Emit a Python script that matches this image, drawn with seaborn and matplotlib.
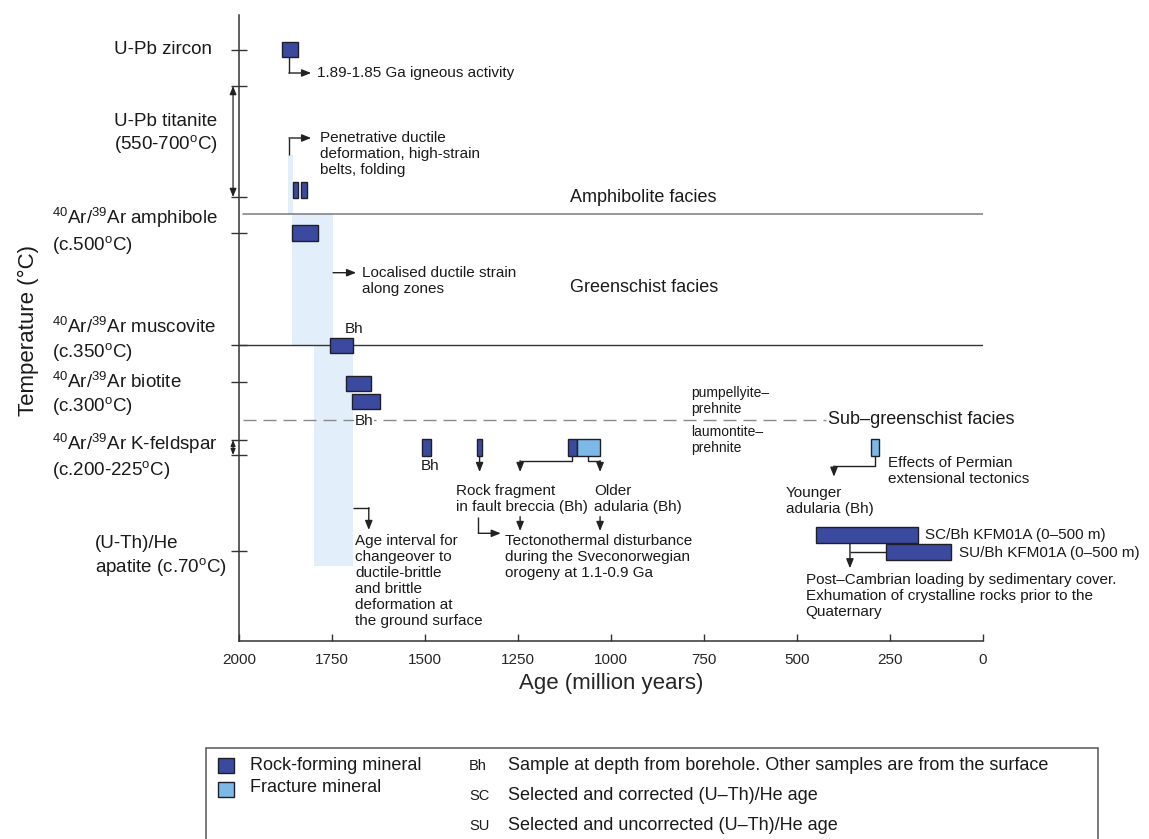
import numpy as np
import pandas as pd
import matplotlib
matplotlib.use("Agg")
import matplotlib.pyplot as plt
import seaborn as sns
from matplotlib.patches import Rectangle

# ---------------- data ----------------
# bars: age interval (Ma) and vertical level (arbitrary temperature-rank scale)
bar_old = [1885, 1854, 1832, 1857, 1755, 1711, 1695, 1509, 1361, 1114, 1090, 301, 448, 260]
bar_young = [1842, 1840, 1818, 1788, 1694, 1646, 1621, 1484, 1346, 1090, 1029, 280, 175, 86]
bar_level = [59.15, 45.1, 45.1, 40.77, 29.55, 25.77, 23.93, 19.35, 19.35, 19.35, 19.35, 19.35, 10.63, 8.87]
bar_height = [1.56, 1.6, 1.6, 1.6, 1.56, 1.53, 1.53, 1.64, 1.64, 1.64, 1.64, 1.64, 1.6, 1.6]
bar_kind = ["rock", "rock", "rock", "rock", "rock", "rock", "rock", "rock", "rock",
            "rock", "fracture", "fracture", "rock", "rock"]

# shaded deformation bands
band_old = [1868, 1857, 1798]
band_young = [1856, 1747, 1694]
band_top = [48.6, 42.7, 29.6]
band_bottom = [42.7, 29.6, 7.53]

# method (y) labels
method_labels = [
    "U-Pb zircon",
    "U-Pb titanite\n(550-700$^{\\mathrm{o}}$C)",
    "$^{40}$Ar/$^{39}$Ar amphibole\n(c.500$^{\\mathrm{o}}$C)",
    "$^{40}$Ar/$^{39}$Ar muscovite\n(c.350$^{\\mathrm{o}}$C)",
    "$^{40}$Ar/$^{39}$Ar biotite\n(c.300$^{\\mathrm{o}}$C)",
    "$^{40}$Ar/$^{39}$Ar K-feldspar\n(c.200-225$^{\\mathrm{o}}$C)",
    "(U-Th)/He\napatite (c.70$^{\\mathrm{o}}$C)",
]
method_label_level = [59.1, 50.7, 41.0, 30.1, 24.65, 18.45, 8.45]
method_label_xpx = [114, 114, 52, 52, 52, 52, 95]
ytick_levels = [59.1, 55.5, 44.4, 40.8, 29.6, 25.9, 20.1, 18.6, 9.0]

xticks = [2000, 1750, 1500, 1250, 1000, 750, 500, 250, 0]

# ---------------- style ----------------
sns.set_theme(style="white")
plt.rcParams["font.family"] = ["Liberation Sans", "DejaVu Sans"]
plt.rcParams["mathtext.fontset"] = "custom"
plt.rcParams["mathtext.rm"] = "Liberation Sans"
plt.rcParams["mathtext.it"] = "Liberation Sans:italic"
plt.rcParams["mathtext.bf"] = "Liberation Sans:bold"
plt.rcParams["text.color"] = "#1a1a1a"

DARK = "#3B4A9E"
LIGHT = "#7DB9E6"
BAND = "#E2EEF9"
EDGE = "#1f1f2a"
LINE = "#222222"
LS = 1.17

W, H = 1149, 839
fig = plt.figure(figsize=(W / 100, H / 100), dpi=100)
ax = fig.add_axes([239 / W, 1 - 641 / H, (982.7 - 239) / W, (641 - 15) / H])
ax.set_xlim(2000, 0)
ax.set_ylim(0, 62.6)
sns.despine(ax=ax)
for s in ["left", "bottom"]:
    ax.spines[s].set_color("#333333")
    ax.spines[s].set_linewidth(1.1)

ax.set_xticks(xticks)
ax.set_xticklabels([str(v) for v in xticks], fontsize=11)
ax.tick_params(axis="x", bottom=True, direction="in", length=5, width=1,
               color="#333333", pad=9)
ax.set_yticks(ytick_levels)
ax.set_yticklabels([])
ax.tick_params(axis="y", left=True, direction="inout", length=11, width=1,
               color="#333333")
ax.set_xlabel("Age (million years)", fontsize=16, labelpad=4)

fig.text(28 / W, 1 - 330 / H, "Temperature (°C)", rotation=90, fontsize=16,
         ha="center", va="center")

# method labels
for lab, lev, xp in zip(method_labels, method_label_level, method_label_xpx):
    ax.annotate(lab, xy=(xp / W, lev), xycoords=("figure fraction", "data"),
                ha="left", va="center", fontsize=13.5, linespacing=1.2,
                annotation_clip=False)

# shaded bands
for o, y_, t, b in zip(band_old, band_young, band_top, band_bottom):
    ax.fill_betweenx([b, t], y_, o, color=BAND, lw=0, zorder=0)

# facies lines
ax.plot([1989, 0], [42.67, 42.67], color="#7a7a7a", lw=1.1, zorder=1)
ax.plot([2000, 0], [29.6, 29.6], color="#333333", lw=1.0, zorder=1)
ax.plot([1989, 421], [22.1, 22.1], color="#8a8a8a", lw=1.0,
        linestyle=(0, (9.4, 5.0)), zorder=1)

# bars
df = pd.DataFrame(dict(old=bar_old, young=bar_young, level=bar_level,
                       h=bar_height, kind=bar_kind))
for _, r in df.iterrows():
    ax.barh(r.level, r.old - r.young, left=r.young, height=r.h,
            color=DARK if r.kind == "rock" else LIGHT, edgecolor=EDGE,
            linewidth=1.0, zorder=3)

# helpers for connectors
def seg(xs, ys):
    ax.plot(xs, ys, color=LINE, lw=1.0, solid_capstyle="butt", zorder=2)

def arrow(x0, y0, x1, y1):
    ax.annotate("", xy=(x1, y1), xytext=(x0, y0),
                arrowprops=dict(arrowstyle="-|>,head_length=0.55,head_width=0.22",
                                color=LINE, lw=1.0, mutation_scale=10,
                                shrinkA=0, shrinkB=0), zorder=2)

def txt(x, y, s, size=11, ls=LS, **kw):
    ax.text(x, y, s, ha=kw.pop("ha", "left"), va=kw.pop("va", "center"),
            fontsize=size, linespacing=ls, **kw)

# double arrows on y axis
for a, b, ms in [(55.5, 44.4, 10), (20.1, 18.6, 7)]:
    ax.annotate("", xy=(-0.008, b), xytext=(-0.008, a),
                xycoords=("axes fraction", "data"), textcoords=("axes fraction", "data"),
                arrowprops=dict(arrowstyle="<|-|>,head_length=0.5,head_width=0.2",
                                color=LINE, lw=0.9, mutation_scale=ms,
                                shrinkA=0, shrinkB=0), annotation_clip=False)

# zircon
seg([1865.6, 1865.6], [58.37, 56.8])
arrow(1865.6, 56.8, 1806, 56.8)
txt(1790, 56.8, "1.89-1.85 Ga igneous activity")

# penetrative
seg([1865.6, 1865.6], [48.6, 50.3])
arrow(1865.6, 50.3, 1806, 50.3)
txt(1781, 48.7, "Penetrative ductile\ndeformation, high-strain\nbelts, folding")

# localised
arrow(1747, 36.83, 1685, 36.83)
txt(1669, 36.0, "Localised ductile strain\nalong zones")

# facies text
txt(1109, 44.4, "Amphibolite facies", size=13)
txt(1109, 35.4, "Greenschist facies", size=13)
txt(416, 22.1, "Sub\u2013greenschist facies", size=13)
txt(784, 24.0, "pumpellyite\u2013\nprehnite", size=10)
txt(784, 20.1, "laumontite\u2013\nprehnite", size=10)

# Bh labels
txt(1691, 31.2, "Bh", ha="center")
ax.text(1664, 22.03, "Bh", ha="center", va="center", fontsize=11,
        bbox=dict(facecolor="white", edgecolor="none", pad=0.5), zorder=2)
txt(1485, 17.53, "Bh", ha="center")

# K-feldspar connectors
arrow(1353, 18.53, 1353, 16.9)
seg([1104.5, 1104.5, 1244], [18.53, 18.03, 18.03])
arrow(1244, 18.03, 1244, 16.9)
seg([1060.6, 1060.6, 1029], [18.53, 18.03, 18.03])
arrow(1029, 18.03, 1029, 16.9)
txt(1416, 14.18, "Rock fragment\nin fault breccia (Bh)")
txt(1045, 14.18, "Older\nadularia (Bh)")
seg([1356.5, 1356.5], [12.43, 10.77])
arrow(1356.5, 10.77, 1296, 10.77)
arrow(1244, 12.43, 1244, 11.0)
arrow(1029, 12.43, 1029, 11.0)
txt(1284.6, 8.4, "Tectonothermal disturbance\nduring the Sveconorwegian\norogeny at 1.1-0.9 Ga")

# age interval
seg([1693.5, 1651], [13.33, 13.33])
arrow(1651, 13.33, 1651, 11.1)
txt(1688, 6.0, "Age interval for\nchangeover to\nductile-brittle\nand brittle\ndeformation at\nthe ground surface")

# Permian
seg([289.6, 289.6, 400], [18.53, 17.5, 17.5])
arrow(400, 17.5, 400, 16.43)
txt(254, 17.0, "Effects of Permian\nextensional tectonics")
txt(529, 14.0, "Younger\nadularia (Bh)")

# apatite
arrow(357, 9.83, 357, 7.27)
seg([357, 260], [8.87, 8.87])
txt(155.3, 10.6, "SC/Bh KFM01A (0\u2013500 m)")
txt(63, 8.83, "SU/Bh KFM01A (0\u2013500 m)")
txt(476, 4.5, "Post\u2013Cambrian loading by sedimentary cover.\n"
             "Exhumation of crystalline rocks prior to the\nQuaternary")

# ---------------- legend panel ----------------
def fx(px):
    return px / W

def fy(py):
    return 1 - py / H

fig.patches.append(Rectangle((fx(206), -0.05), fx(1098) - fx(206), fy(747.7) + 0.05,
                             transform=fig.transFigure, fill=False,
                             edgecolor="#555555", lw=1.1))
for yy, col in [(757.7, DARK), (781.7, LIGHT)]:
    fig.patches.append(Rectangle((fx(218), fy(yy + 15.5)), fx(16), 15.5 / H,
                                 transform=fig.transFigure, facecolor=col,
                                 edgecolor=EDGE, lw=1.0))
fig.text(fx(250), fy(765.7), "Rock-forming mineral", fontsize=13, va="center")
fig.text(fx(250), fy(787.7), "Fracture mineral", fontsize=13, va="center")
leg_abbr = ["Bh", "SC", "SU"]
leg_desc = ["Sample at depth from borehole. Other samples are from the surface",
            "Selected and corrected (U\u2013Th)/He age",
            "Selected and uncorrected (U\u2013Th)/He age"]
for a, d, yy in zip(leg_abbr, leg_desc, [765.7, 795.7, 825.7]):
    fig.text(fx(469), fy(yy), a, fontsize=10.5, va="center")
    fig.text(fx(508), fy(yy), d, fontsize=13, va="center")

fig.savefig("out.png", dpi=100)
